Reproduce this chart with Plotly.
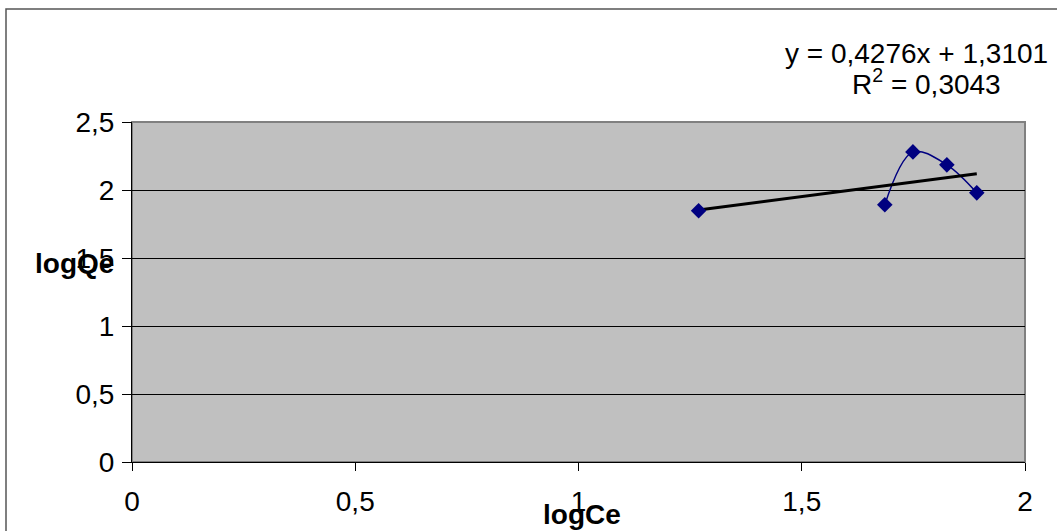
import plotly.graph_objects as go
import numpy as np

# Data
log_ce = [1.269, 1.686, 1.749, 1.825, 1.892]
log_qe = [1.847, 1.891, 2.280, 2.185, 1.979]
slope = 0.4276
intercept = 1.3101
r2 = 0.3043
x_ticks = [0, 0.5, 1, 1.5, 2]
x_tick_labels = ["0", "0,5", "1", "1,5", "2"]
y_ticks = [0, 0.5, 1, 1.5, 2, 2.5]
y_tick_labels = ["0", "0,5", "1", "1,5", "2", "2,5"]

FONT = "Liberation Sans, Arial, sans-serif"
NAVY = "#000080"
FS = 28

fig = go.Figure()

# connected smoothed series (first point isolated, followed by a gap)
xs_line = [log_ce[0], None] + log_ce[1:]
ys_line = [log_qe[0], None] + log_qe[1:]
fig.add_trace(go.Scatter(
    x=xs_line, y=ys_line, mode="lines", line=dict(color=NAVY, width=1.5, shape="spline"),
    connectgaps=False, showlegend=False, hoverinfo="skip"))

# linear trendline
tx = np.array([min(log_ce), max(log_ce)])
ty = slope * tx + intercept
fig.add_trace(go.Scatter(x=tx, y=ty, mode="lines", line=dict(color="black", width=3),
                         showlegend=False))

fig.add_trace(go.Scatter(
    x=log_ce, y=log_qe, mode="markers",
    marker=dict(symbol="diamond", size=12, color=NAVY, line=dict(color=NAVY, width=0)),
    showlegend=False))

L, R, T, B = 132, 32, 122, 69
W, H = 1057, 531
pw, ph = W - L - R, H - T - B


def px(x):
    return (x - L) / pw


def py(y):
    return (H - B - y) / ph


fig.update_layout(
    width=W, height=H,
    margin=dict(l=L, r=R, t=T, b=B, pad=0),
    paper_bgcolor="white", plot_bgcolor="#C0C0C0",
    font=dict(family=FONT, size=FS, color="black"),
    xaxis=dict(range=[0, 2], tickvals=x_ticks, ticktext=x_tick_labels,
               showgrid=False, zeroline=False, showline=True, linecolor="black", linewidth=1,
               ticks="outside", ticklen=8, tickcolor="black", ticklabelstandoff=6,
               tickfont=dict(size=FS, family=FONT)),
    yaxis=dict(range=[0, 2.5], tickvals=y_ticks, ticktext=y_tick_labels,
               showgrid=True, gridcolor="black", gridwidth=1, zeroline=False,
               showline=True, linecolor="black", linewidth=1,
               ticks="outside", ticklen=9, tickcolor="black", ticklabelstandoff=2,
               tickfont=dict(size=FS, family=FONT)),
    shapes=[
        dict(type="rect", xref="paper", yref="paper", x0=0, x1=1, y0=0, y1=1,
             line=dict(color="#808080", width=2), layer="below"),
        dict(type="rect", xref="paper", yref="paper",
             x0=px(6), x1=px(W + 20), y0=py(H + 20), y1=py(9),
             line=dict(color="#555555", width=1.5), layer="below"),
    ],
    annotations=[
        dict(text="y = 0,4276x + 1,3101", xref="paper", yref="paper",
             x=px(916), y=py(53), xanchor="center", yanchor="middle",
             showarrow=False, font=dict(size=FS, family=FONT)),
        dict(text="R<sup>2</sup> = 0,3043", xref="paper", yref="paper",
             x=px(926), y=py(82), xanchor="center", yanchor="middle",
             showarrow=False, font=dict(size=FS, family=FONT)),
        dict(text="<b>logQe</b>", xref="paper", yref="paper",
             x=px(74), y=py(263), xanchor="center", yanchor="middle",
             showarrow=False, font=dict(size=FS, family=FONT)),
        dict(text="<b>logCe</b>", xref="paper", yref="paper",
             x=px(582), y=py(514), xanchor="center", yanchor="middle",
             showarrow=False, font=dict(size=FS, family=FONT)),
    ],
)

fig.write_html("out.html")
